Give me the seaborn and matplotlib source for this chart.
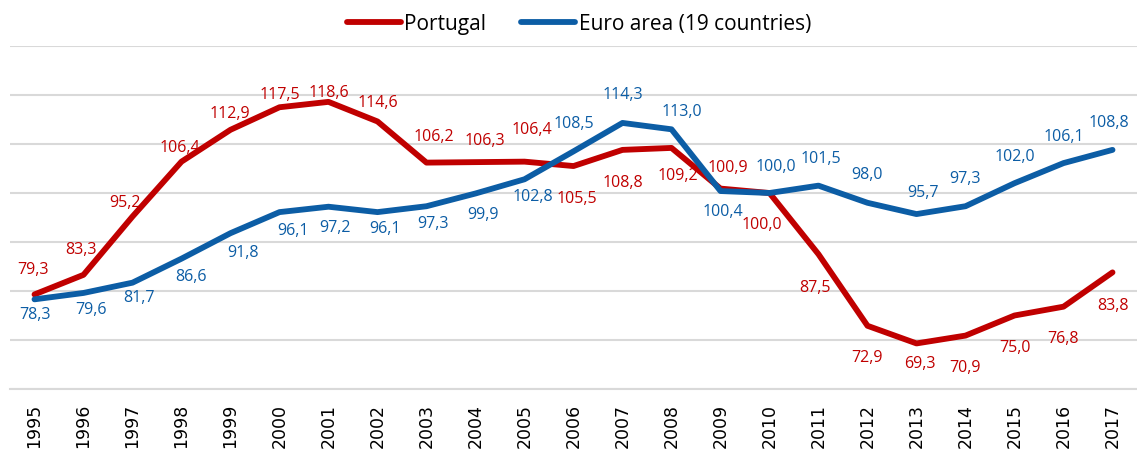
import numpy as np
import pandas as pd
import matplotlib.pyplot as plt
import seaborn as sns

years = list(range(1995, 2018))
portugal = [79.3, 83.3, 95.2, 106.4, 112.9, 117.5, 118.6, 114.6, 106.2, 106.3, 106.4,
            105.5, 108.8, 109.2, 100.9, 100.0, 87.5, 72.9, 69.3, 70.9, 75.0, 76.8, 83.8]
euro_area = [78.3, 79.6, 81.7, 86.6, 91.8, 96.1, 97.2, 96.1, 97.3, 99.9, 102.8,
             108.5, 114.3, 113.0, 100.4, 100.0, 101.5, 98.0, 95.7, 97.3, 102.0, 106.1, 108.8]
series_names = ["Portugal", "Euro area (19 countries)"]

RED = "#C00000"
BLUE = "#0C5DA5"

# label offsets in pixels (dx, dy), dy positive = downwards in the picture
pt_off = [(-1, -25), (-3, -26), (-8, -15), (-2, -15), (-1, -17), (0, -13), (0, -10), (0, -19),
          (7, -27), (9, -22), (7, -33), (3, 32), (0, 32), (6, 27), (7, -22), (-8, 31),
          (-4, 33), (0, 31), (3, 20), (0, 31), (0, 32), (0, 31), (0, 33)]
ea_off = [(0, 15), (7, 16), (6, 14), (9, 17), (12, 19), (13, 18), (6, 20), (7, 16),
          (6, 17), (7, 21), (8, 17), (0, -28), (0, -29), (10, -18), (2, 20), (6, -27),
          (2, -28), (0, -29), (6, -22), (0, -28), (0, -27), (0, -27), (-4, -28)]

df = pd.DataFrame({
    "year": years * 2,
    "value": portugal + euro_area,
    "series": [series_names[0]] * len(years) + [series_names[1]] * len(years),
})

sns.set_theme(style="white")
plt.rcParams["font.family"] = ["Open Sans", "DejaVu Sans"]
plt.rcParams["text.color"] = "black"

fig = plt.figure(figsize=(11.37, 4.52), dpi=100)
ax = fig.add_axes([10 / 1137, 1 - 390 / 452, 1 - 10 / 1137, (390 - 47) / 452])

sns.lineplot(data=df, x="year", y="value", hue="series", palette=[RED, BLUE],
             linewidth=4.2, ax=ax, legend=False)

for vals, offs, col in [(portugal, pt_off, RED), (euro_area, ea_off, BLUE)]:
    for yr, v, (dx, dy) in zip(years, vals, offs):
        ax.annotate(f"{v:.1f}".replace(".", ","), (yr, v), xytext=(dx, -dy),
                    textcoords="offset pixels", ha="center", va="center",
                    color=col, fontsize=11.5)

ax.set_xlim(years[0] - 0.5, years[-1] + 0.5)
ax.set_ylim(60, 130)
ax.set_yticks(np.arange(60, 131, 10))
ax.set_yticklabels([])
ax.yaxis.grid(True, color="#D9D9D9", linewidth=1.5)
ax.set_xticks(years)
ax.set_xticklabels([str(y) for y in years], rotation=90, fontsize=12.5,
                   family="DejaVu Sans", color="black")
ax.tick_params(axis="x", length=0, pad=10)
ax.tick_params(axis="y", length=0)
ax.set_xlabel("")
ax.set_ylabel("")
for s in ["left", "right", "top"]:
    ax.spines[s].set_visible(False)
ax.spines["bottom"].set_color("#D9D9D9")
ax.spines["bottom"].set_linewidth(1.5)

handles = [plt.Line2D([], [], color=RED, linewidth=4.2),
           plt.Line2D([], [], color=BLUE, linewidth=4.2)]
leg = fig.legend(handles, series_names, loc="upper center", bbox_to_anchor=(0.509, 1.01),
                 ncol=2, frameon=False, fontsize=15, handlelength=2.6,
                 handletextpad=0.15, columnspacing=1.7)
for t in leg.get_texts():
    t.set_color("black")

fig.savefig("out.png", dpi=100)
